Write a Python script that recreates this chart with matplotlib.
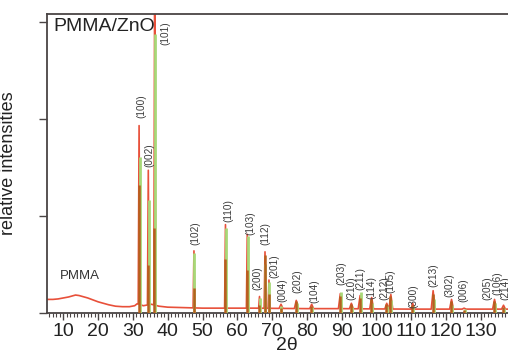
import numpy as np
import matplotlib
matplotlib.use("Agg")
import matplotlib.pyplot as plt
from matplotlib.ticker import MultipleLocator

plt.rcParams['font.family'] = ['Liberation Sans', 'DejaVu Sans']

# fond mesure (PMMA amorphe + ligne de base), 2theta / intensite relative
fond_x = [5.3, 7, 8.5, 10, 11.5, 12.5, 13.5, 14.5, 15.5, 17, 18.5, 20, 21.5, 23,
          25, 27, 29, 30.5, 31.2, 33, 35.3, 37.5, 40, 45, 50, 55, 60, 65, 70,
          80, 90, 100, 110, 120, 130, 137.8]
fond_y = [0.14, 0.14, 0.145, 0.155, 0.165, 0.175, 0.185, 0.18, 0.17, 0.155, 0.135,
          0.115, 0.1, 0.085, 0.07, 0.065, 0.065, 0.075, 0.095, 0.075, 0.09, 0.07,
          0.06, 0.055, 0.05, 0.05, 0.05, 0.05, 0.048, 0.045, 0.045, 0.042, 0.04,
          0.04, 0.04, 0.04]

# pics ZnO
hkl = ['(100)', '(002)', '(101)', '(102)', '(110)', '(103)', '(200)', '(112)',
       '(201)', '(004)', '(202)', '(104)', '(203)', '(210)', '(211)', '(114)',
       '(212)', '(105)', '(300)', '(213)', '(302)', '(006)', '(205)', '(106)',
       '(214)']
pos = [31.77, 34.42, 36.25, 47.54, 56.60, 62.86, 66.38, 67.96, 69.10, 72.56,
       76.95, 81.37, 89.61, 92.78, 95.30, 98.61, 102.95, 104.13, 110.39, 116.28,
       121.57, 125.18, 133.93, 136.51, 138.5]
# hauteur du pic mesure (rouge)
h_mesure = [1.93, 1.47, 3.4, 0.64, 0.91, 0.81, 0.17, 0.63, 0.34, 0.09, 0.13, 0.09,
            0.2, 0.1, 0.18, 0.16, 0.1, 0.19, 0.1, 0.23, 0.14, 0.05, 0.14, 0.08, 0.06]
# raies de reference (vert)
h_ref = [1.61, 1.16, 2.87, 0.62, 0.88, 0.79, 0.15, 0.5, 0.32, 0.07, 0.1, 0.06,
         0.22, 0.06, 0.22, 0.1, 0.07, 0.13, 0.07, 0.14, 0.08, 0.04, 0.1, 0.05, 0.04]
# deuxieme composante (marron)
h_calc = [1.32, 0.49, 0.88, 0.26, 0.56, 0.44, 0.08, 0.6, 0.2, 0.05, 0.12, 0.07,
          0.17, 0.09, 0.15, 0.14, 0.09, 0.17, 0.08, 0.2, 0.12, 0.03, 0.12, 0.06, 0.04]

# position des etiquettes (x en 2theta, y = bas du texte)
etiq_x = [32.56, 34.66, 39.25, 47.87, 57.36, 63.68, 65.69, 68.0, 70.57, 72.87,
          77.18, 82.07, 89.83, 92.7, 95.49, 98.65, 102.18, 104.1, 110.5, 116.26,
          120.86, 124.9, 131.8, 134.66, 136.95]
etiq_y = [2.01, 1.505, 2.76, 0.70, 0.94, 0.80, 0.237, 0.70, 0.36, 0.113, 0.206,
          0.103, 0.289, 0.134, 0.237, 0.144, 0.134, 0.206, 0.05, 0.268, 0.165,
          0.113, 0.134, 0.186, 0.134]

rouge = '#e8503a'
vert = '#a8d878'
marron = '#b5601e'
gris = '#4a4444'

# construit la courbe mesuree : fond + pics fins
courbe_x = list(fond_x)
courbe_y = list(fond_y)
for p, h in zip(pos, h_mesure):
    w = 0.25 if p < 70 else 0.55
    for xx, yy in [(p - w, None), (p, h), (p + w, None)]:
        if yy is None:
            yy = np.interp(xx, fond_x, fond_y)
        courbe_x.append(xx)
        courbe_y.append(yy)
ordre = np.argsort(courbe_x)
courbe_x = np.array(courbe_x)[ordre]
courbe_y = np.array(courbe_y)[ordre]

fig = plt.figure(figsize=(5.08, 3.58), dpi=100)
ax = fig.add_axes([0.0925, 0.1257, 0.9075, 0.8353])

ax.plot(courbe_x, courbe_y, color=rouge, lw=1.2, zorder=2)
for p, h in zip(pos, h_ref):
    ax.vlines(p + 0.12, 0, h, color=vert, lw=2.0, zorder=3)
for p, h in zip(pos, h_calc):
    ax.vlines(p - 0.12, 0, h, color=marron, lw=1.8, zorder=4)

for nom, x, y in zip(hkl, etiq_x, etiq_y):
    ax.text(x, y, nom, rotation=90, ha='center', va='bottom', fontsize=7.2,
            color='#3a3a3a', zorder=5)

ax.text(0.013, 0.985, 'PMMA/ZnO', transform=ax.transAxes, ha='left', va='top',
        fontsize=14, color='#222222')
ax.text(9.1, 0.32, 'PMMA', ha='left', va='bottom', fontsize=9.5, color='#333333')

ax.set_xlim(5.3, 137.8)
ax.set_ylim(0, 3.08)
ax.xaxis.set_major_locator(MultipleLocator(10))
ax.xaxis.set_minor_locator(MultipleLocator(1))
ax.set_xticks(range(10, 131, 10))
ax.set_yticks([0, 1, 2, 3])
ax.set_yticklabels([])
ax.tick_params(axis='x', which='major', length=5, width=1, color=gris,
               labelsize=14, pad=2, labelcolor='#222222')
ax.tick_params(axis='x', which='minor', length=3, width=0.8, color=gris)
ax.tick_params(axis='y', length=6, width=1, color=gris)

for s in ['left', 'bottom', 'top']:
    ax.spines[s].set_color(gris)
    ax.spines[s].set_linewidth(1.3)
ax.spines['right'].set_visible(False)

ax.set_xlabel('2θ', fontsize=14, color='#222222')
ax.xaxis.set_label_coords(0.52, -0.08)
ax.set_ylabel('relative intensities', fontsize=13, color='#222222')
ax.yaxis.set_label_coords(-0.065, 0.5)

fig.savefig('out.png', dpi=100)
